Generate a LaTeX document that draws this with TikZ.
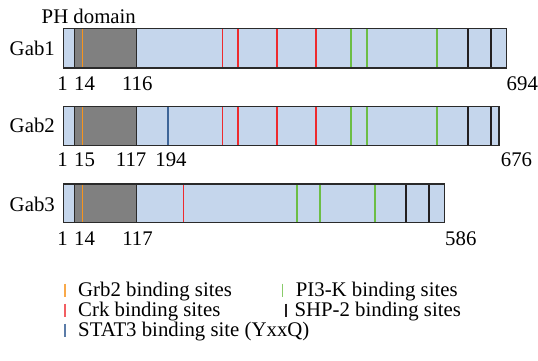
\documentclass[tikz,border=0pt]{standalone}
\usepackage{fontspec}
\setmainfont{Liberation Serif}
\definecolor{barfill}{HTML}{C5D6EC}
\definecolor{phfill}{HTML}{808080}
\definecolor{edge}{HTML}{2A2A2A}
\definecolor{grbc}{HTML}{F7941D}
\definecolor{crkc}{HTML}{EE2A2E}
\definecolor{pikc}{HTML}{6CBE45}
\definecolor{statc}{HTML}{3E6598}
\definecolor{shpc}{HTML}{231F20}
\tikzset{
  lbl/.style={inner sep=0pt, font=\fontsize{20.8}{24}\selectfont},
  barbox/.style={draw=edge, line width=1.4pt, fill=barfill},
  phbox/.style={draw=edge, line width=1.4pt, fill=phfill},
  site/.style={line width=1.6pt},
  legtick/.style={line width=1.6pt}
}
\begin{document}
\begin{tikzpicture}[x=1pt,y=-1pt]
\useasboundingbox (0,0) rectangle (538,360);
\node[lbl, anchor=base west] (ph) at (41.5,23.3) {PH domain};
% Gab1
\node[lbl, anchor=base east] (g1) at (55,55.7) {Gab1};
\draw[barbox] (63.3,28.7) rectangle (506.7,68);
\draw[phbox] (74.3,28.7) rectangle (136.7,68);
\draw[site, grbc] (82.3,28.7) -- (82.3,68);
\foreach \x in {222.3,237.7,276.7,315.7} \draw[site, crkc] (\x,28.7) -- (\x,68);
\foreach \x in {351,366.7,436.7} \draw[site, pikc] (\x,28.7) -- (\x,68);
\foreach \x in {468,491} \draw[site, shpc] (\x,28.7) -- (\x,68);
\draw[edge, line width=1.4pt] (63.3,28.7) rectangle (506.7,68);
\node[lbl, anchor=base] (g1a) at (62.5,90) {1};
\node[lbl, anchor=base west] (g1b) at (74,90) {14};
\node[lbl, anchor=base] (g1c) at (137.3,90) {116};
\node[lbl, anchor=base west] (g1d) at (506.5,90) {694};
% Gab2
\node[lbl, anchor=base east] (g2) at (55,132.3) {Gab2};
\draw[barbox] (63.3,106.7) rectangle (499,145.3);
\draw[phbox] (74.3,106.7) rectangle (136.7,145.3);
\draw[site, grbc] (82.3,106.7) -- (82.3,145.3);
\draw[site, statc] (167.7,106.7) -- (167.7,145.3);
\foreach \x in {222.3,237.7,276.7,315.7} \draw[site, crkc] (\x,106.7) -- (\x,145.3);
\foreach \x in {351,366.7,436.7} \draw[site, pikc] (\x,106.7) -- (\x,145.3);
\foreach \x in {468,491} \draw[site, shpc] (\x,106.7) -- (\x,145.3);
\draw[edge, line width=1.4pt] (63.3,106.7) rectangle (499,145.3);
\node[lbl, anchor=base] (g2a) at (62.5,166) {1};
\node[lbl, anchor=base west] (g2b) at (74,166) {15};
\node[lbl, anchor=base east] (g2c) at (146.5,166) {117};
\node[lbl, anchor=base] (g2d) at (171,166) {194};
\node[lbl, anchor=base west] (g2e) at (500.7,166) {676};
% Gab3
\node[lbl, anchor=base east] (g3) at (55,211.7) {Gab3};
\draw[barbox] (63.3,184) rectangle (444.7,222.7);
\draw[phbox] (74.3,184) rectangle (136.7,222.7);
\draw[site, grbc] (82.3,184) -- (82.3,222.7);
\draw[site, crkc] (183.3,184) -- (183.3,222.7);
\foreach \x in {296.7,320,374.7} \draw[site, pikc] (\x,184) -- (\x,222.7);
\foreach \x in {405.7,428.7} \draw[site, shpc] (\x,184) -- (\x,222.7);
\draw[edge, line width=1.4pt] (63.3,184) rectangle (444.7,222.7);
\node[lbl, anchor=base] (g3a) at (62.5,245) {1};
\node[lbl, anchor=base west] (g3b) at (74,245) {14};
\node[lbl, anchor=base] (g3c) at (137.5,245) {117};
\node[lbl, anchor=base west] (g3d) at (445,245) {586};
% Legend
\draw[legtick, grbc!80] (64.7,283.5) -- (64.7,297);
\node[lbl, anchor=base west] (l1) at (78,296.7) {Grb2 binding sites};
\draw[legtick, crkc!75] (64.7,303.5) -- (64.7,317);
\node[lbl, anchor=base west] (l2) at (78,316.7) {Crk binding sites};
\draw[legtick, statc!85] (64.7,323.5) -- (64.7,337);
\node[lbl, anchor=base west] (l3) at (78,336.7) {STAT3 binding site (YxxQ)};
\draw[legtick, pikc!80] (282.3,283.5) -- (282.3,297);
\node[lbl, anchor=base west] (l4) at (295.7,296.7) {PI3-K binding sites};
\draw[legtick, shpc] (286,303.5) -- (286,317);
\node[lbl, anchor=base west] (l5) at (294.3,316.7) {SHP-2 binding sites};
\end{tikzpicture}
\end{document}
